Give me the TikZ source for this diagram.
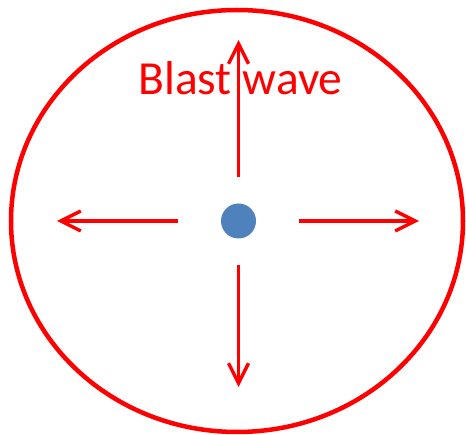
\documentclass[tikz,border=0pt]{standalone}
\usepackage{fontspec}
\setmainfont{Carlito}
\usetikzlibrary{arrows.meta}
\definecolor{WaveRed}{HTML}{FF0000}
\definecolor{CoreBlue}{HTML}{4F81BD}
\tikzset{
  waveArrow/.style={-{Straight Barb[length=20pt, width=20pt, line width=3.4pt]}, line width=3.4pt, draw=WaveRed},
}

\begin{document}
\begin{tikzpicture}[x=1pt, y=-1pt]
  \useasboundingbox (0,0) rectangle (466,435);

  % shock front
  \draw[WaveRed, line width=4.5pt] (237,221) ellipse [x radius=226, y radius=211];

  % core
  \node[circle, fill=CoreBlue, minimum size=35pt, inner sep=0pt] (core) at (238.5,221) {};

  \coordinate (upS) at (238.5,177);    \coordinate (upE) at (238.5,40);
  \coordinate (downS) at (238.5,265);  \coordinate (downE) at (238.5,387);
  \coordinate (leftS) at (178,221);    \coordinate (leftE) at (57,221);
  \coordinate (rightS) at (299,221);   \coordinate (rightE) at (419,221);

  \node[anchor=base, text=WaveRed, font=\fontsize{47.5}{52}\selectfont, inner sep=0pt] (label) at (240.5,95) {Blast wave};

  \draw[waveArrow] (upS) -- (upE);
  \draw[waveArrow] (downS) -- (downE);
  \draw[waveArrow] (leftS) -- (leftE);
  \draw[waveArrow] (rightS) -- (rightE);
\end{tikzpicture}
\end{document}
